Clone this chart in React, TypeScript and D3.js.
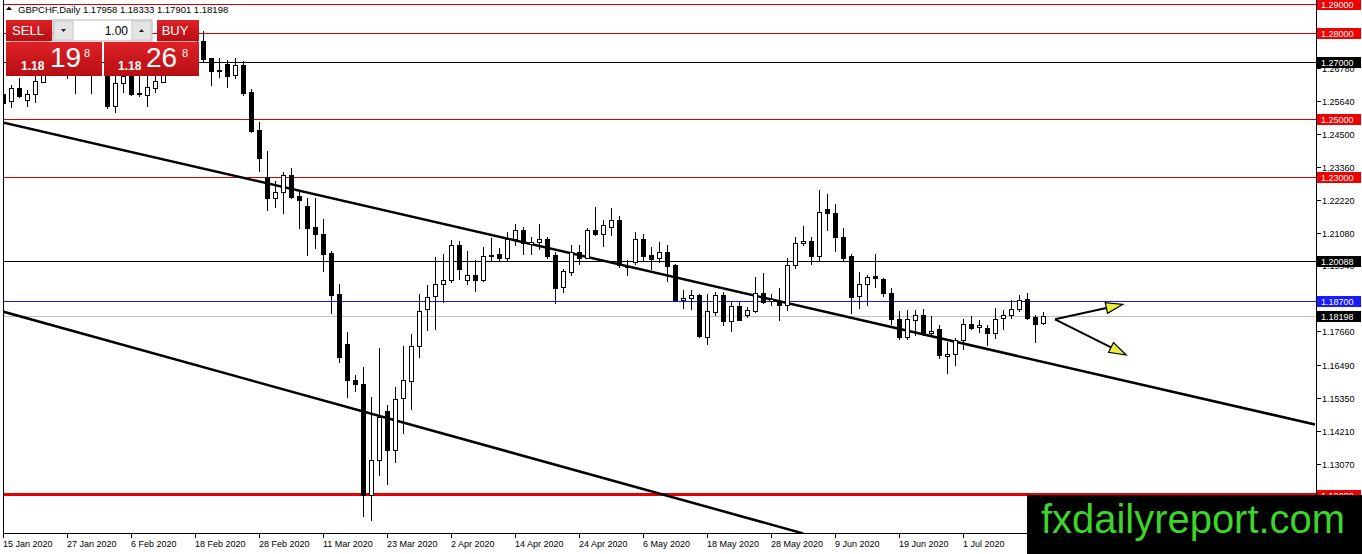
import React from 'react';
import * as d3 from 'd3';

const W = 1362;
const H = 554;

// OHLC values, one per daily bar starting 15 Jan 2020 (weekdays)
const opens = [
  1.2588, 1.2563, 1.2610, 1.2567, 1.2588, 1.2630, 1.2660, 1.2690, 1.2680, 1.2665,
  1.2685, 1.2705, 1.2690, 1.2700, 1.2546, 1.2625, 1.2664, 1.2590, 1.2584, 1.2608,
  1.2630, 1.2657, 1.2680, 1.2700, 1.2730, 1.2772, 1.2712, 1.2671, 1.2692, 1.2654,
  1.2688, 1.2596, 1.2463, 1.2301, 1.2226, 1.2247, 1.2307, 1.2235, 1.2199, 1.2127,
  1.2104, 1.2037, 1.1894, 1.1723, 1.1598, 1.1584, 1.1200, 1.1318, 1.1491, 1.1355,
  1.1536, 1.1593, 1.1713, 1.1844, 1.1887, 1.1929, 1.1942, 1.2064, 1.1945, 1.1962,
  1.1945, 1.2029, 1.2033, 1.2021, 1.2087, 1.2116, 1.2068, 1.2075, 1.2085, 1.2029,
  1.1918, 1.1972, 1.2039, 1.2021, 1.2116, 1.2104, 1.2127, 1.2151, 1.1991, 1.2006,
  1.2087, 1.2029, 1.2018, 1.2039, 1.1994, 1.1875, 1.1882, 1.1890, 1.1746, 1.1833,
  1.1890, 1.1801, 1.1852, 1.1821, 1.1836, 1.1900, 1.1871, 1.1871, 1.1856, 1.1994,
  1.2070, 1.2078, 1.2026, 1.2188, 1.2176, 1.2091, 1.2026, 1.1888, 1.1929, 1.1956,
  1.1948, 1.1900, 1.1809, 1.1746, 1.1804, 1.1821, 1.1759, 1.1772, 1.1681, 1.1688,
  1.1737, 1.1792, 1.1779, 1.1777, 1.1761, 1.1813, 1.1823, 1.1842, 1.1879, 1.1814,
  1.17958,
];
const highs = [
  1.2613, 1.2619, 1.2642, 1.2602, 1.2660, 1.2680, 1.2705, 1.2715, 1.2700, 1.2700,
  1.2725, 1.2730, 1.2720, 1.2712, 1.2665, 1.2668, 1.2680, 1.2660, 1.2660, 1.2665,
  1.2670, 1.2700, 1.2720, 1.2745, 1.2790, 1.2806, 1.2713, 1.2712, 1.2706, 1.2712,
  1.2702, 1.2605, 1.2490, 1.2390, 1.2286, 1.2318, 1.2330, 1.2249, 1.2226, 1.2228,
  1.2154, 1.2043, 1.1928, 1.1763, 1.1613, 1.1642, 1.1538, 1.1708, 1.1509, 1.1572,
  1.1713, 1.1758, 1.1896, 1.1925, 1.2023, 1.2035, 1.2081, 1.2078, 1.2043, 1.2012,
  1.2058, 1.2089, 1.2054, 1.2110, 1.2136, 1.2127, 1.2093, 1.2136, 1.2093, 1.2041,
  1.1981, 1.2064, 1.2064, 1.2124, 1.2197, 1.2151, 1.2193, 1.2166, 1.2012, 1.2110,
  1.2104, 1.2058, 1.2075, 1.2066, 1.2000, 1.1908, 1.1908, 1.1896, 1.1896, 1.1902,
  1.1902, 1.1867, 1.1867, 1.1850, 1.1954, 1.1966, 1.1896, 1.1917, 1.2018, 1.2091,
  1.2130, 1.2093, 1.2255, 1.2241, 1.2206, 1.2125, 1.2033, 1.1971, 1.1960, 1.2033,
  1.1952, 1.1917, 1.1835, 1.1838, 1.1838, 1.1842, 1.1819, 1.1786, 1.1728, 1.1742,
  1.1809, 1.1819, 1.1804, 1.1789, 1.1846, 1.1838, 1.1873, 1.1893, 1.1900, 1.1823,
  1.18333,
];
const lows = [
  1.2526, 1.2542, 1.2576, 1.2546, 1.2561, 1.2629, 1.2656, 1.2660, 1.2643, 1.2591,
  1.2662, 1.2591, 1.2665, 1.2538, 1.2526, 1.2596, 1.2586, 1.2581, 1.2546, 1.2596,
  1.2629, 1.2655, 1.2665, 1.2690, 1.2720, 1.2702, 1.2619, 1.2648, 1.2613, 1.2642,
  1.2584, 1.2455, 1.2322, 1.2185, 1.2197, 1.2177, 1.2226, 1.2124, 1.2029, 1.2055,
  1.1974, 1.1830, 1.1659, 1.1538, 1.1558, 1.1127, 1.1110, 1.1266, 1.1237, 1.1312,
  1.1413, 1.1497, 1.1676, 1.1771, 1.1775, 1.1867, 1.1937, 1.1948, 1.1928, 1.1904,
  1.1939, 1.2012, 1.2012, 1.2009, 1.2066, 1.2035, 1.2035, 1.2052, 1.2018, 1.1865,
  1.1902, 1.1962, 1.2000, 1.2018, 1.2099, 1.2061, 1.2099, 1.1989, 1.1960, 1.2000,
  1.2012, 1.1981, 1.2006, 1.1939, 1.1870, 1.1846, 1.1844, 1.1746, 1.1723, 1.1821,
  1.1786, 1.1767, 1.1804, 1.1815, 1.1833, 1.1864, 1.1856, 1.1804, 1.1838, 1.1986,
  1.2064, 1.2000, 1.2014, 1.2116, 1.2044, 1.2012, 1.1829, 1.1846, 1.1856, 1.1919,
  1.1887, 1.1790, 1.1740, 1.1738, 1.1752, 1.1752, 1.1752, 1.1673, 1.1622, 1.1648,
  1.1705, 1.1772, 1.1763, 1.1719, 1.1742, 1.1775, 1.1813, 1.1835, 1.1809, 1.1728,
  1.17901,
];
const closes = [
  1.2558, 1.2608, 1.2581, 1.2588, 1.2633, 1.2660, 1.2690, 1.2680, 1.2665, 1.2685,
  1.2705, 1.2690, 1.2700, 1.2546, 1.2625, 1.2650, 1.2588, 1.2588, 1.2613, 1.2633,
  1.2657, 1.2680, 1.2700, 1.2730, 1.2772, 1.2708, 1.2669, 1.2667, 1.2651, 1.2688,
  1.2590, 1.2459, 1.2365, 1.2226, 1.2247, 1.2307, 1.2232, 1.2220, 1.2125, 1.2102,
  1.2033, 1.1893, 1.1676, 1.1598, 1.1582, 1.1200, 1.1318, 1.1468, 1.1353, 1.1532,
  1.1596, 1.1713, 1.1836, 1.1885, 1.1929, 1.1942, 1.2064, 1.1983, 1.1962, 1.1945,
  1.2027, 1.2026, 1.2021, 1.2087, 1.2116, 1.2070, 1.2075, 1.2085, 1.2027, 1.1916,
  1.1974, 1.2039, 1.2021, 1.2116, 1.2103, 1.2133, 1.2151, 1.1994, 1.1988, 1.2087,
  1.2027, 1.2016, 1.2039, 1.1991, 1.1875, 1.1882, 1.1893, 1.1749, 1.1835, 1.1890,
  1.1801, 1.1852, 1.1806, 1.1838, 1.1900, 1.1867, 1.1876, 1.1858, 1.1994, 1.2070,
  1.2077, 1.2026, 1.2179, 1.2174, 1.2091, 1.2021, 1.1885, 1.1931, 1.1954, 1.1951,
  1.1898, 1.1809, 1.1746, 1.1809, 1.1821, 1.1761, 1.1768, 1.1682, 1.1688, 1.1737,
  1.1792, 1.1777, 1.1786, 1.1761, 1.1809, 1.1823, 1.1842, 1.1873, 1.1812, 1.1792,
  1.18198,
];

const dateTickBars = [0, 8, 16, 24, 32, 40, 48, 56, 64, 72, 80, 88, 96, 104, 112, 120];
const dateLabels = [
  '15 Jan 2020', '27 Jan 2020', '6 Feb 2020', '18 Feb 2020', '28 Feb 2020', '11 Mar 2020',
  '23 Mar 2020', '2 Apr 2020', '14 Apr 2020', '24 Apr 2020', '6 May 2020', '18 May 2020',
  '28 May 2020', '9 Jun 2020', '19 Jun 2020', '1 Jul 2020',
];

const priceTicks = [
  1.2792, 1.2678, 1.2564, 1.245, 1.2336, 1.2222, 1.2108, 1.1994, 1.1766,
  1.1649, 1.1535, 1.1421, 1.1307,
];

const levelPrices = [1.29, 1.28, 1.27, 1.25, 1.23, 1.20088, 1.187, 1.18198, 1.12];
const levelKinds = ['red', 'red', 'black', 'red', 'red', 'black', 'blue', 'bid', 'support'];

// trend lines: [bar0, price0, bar1, price1]
const trendUpper = [0, 1.24893, 164, 1.14426];
const trendLower = [0, 1.18339, 100, 1.10652];

// projection arrows: start [bar, price] and two tips
const arrowStart = [131.5, 1.18072];
const arrowTips = [
  [140, 1.18592],
  [140.4, 1.16835],
];

const symbolHeader = 'GBPCHF,Daily';
const headerOHLC = ['1.17958', '1.18333', '1.17901', '1.18198'];
const lotSize = '1.00';
const sellQuote = ['1.18', '19', '8'];
const buyQuote = ['1.18', '26', '8'];

const levelStyle: Record<string, { line: string; width: number; box: string }> = {
  red: { line: '#d80000', width: 1, box: '#f00000' },
  black: { line: '#000000', width: 1, box: '#000000' },
  blue: { line: '#1414ff', width: 1, box: '#1a1aff' },
  bid: { line: '#c0c0c0', width: 1, box: '#000000' },
  support: { line: '#e80000', width: 2.5, box: '#f00000' },
};

const FONT = '"Liberation Sans", Arial, sans-serif';

export default function App() {
  const plotL = 3;
  const plotR = 1316;
  const plotB = 533;

  const x = d3.scaleLinear().domain([0, 1]).range([3, 11]);
  const y = d3.scaleLinear().domain([1.12, 1.29]).range([494.5, 4]);

  const candles = opens.map((o, i) => {
    const c = closes[i];
    const cx = Math.round(x(i));
    const top = Math.round(y(Math.max(o, c)));
    const bot = Math.round(y(Math.min(o, c)));
    const bull = c >= o;
    const hy = Math.round(y(highs[i]));
    const ly = Math.round(y(lows[i]));
    return (
      <g key={i}>
        <line x1={cx + 0.5} x2={cx + 0.5} y1={hy} y2={ly + 1} stroke="#000" strokeWidth={1} />
        {bot - top < 1 ? (
          <line x1={cx - 2} x2={cx + 3} y1={top + 0.5} y2={top + 0.5} stroke="#000" strokeWidth={1} />
        ) : bull ? (
          <rect x={cx - 1.5} y={top + 0.5} width={4} height={bot - top} fill="#fff" stroke="#000" strokeWidth={1} />
        ) : (
          <rect x={cx - 2} y={top} width={5} height={bot - top + 1} fill="#000" />
        )}
      </g>
    );
  });

  const line = d3.line<number[]>().x((d) => x(d[0])).y((d) => y(d[1]));
  const tl = (t: number[]) => line([[t[0], t[1]], [t[2], t[3]]]) || '';

  const ax = x(arrowStart[0]);
  const ay = y(arrowStart[1]);
  const arrows = arrowTips.map((t, k) => {
    const tx = x(t[0]);
    const ty = y(t[1]);
    const ang = Math.atan2(ty - ay, tx - ax);
    const len = 17;
    const hw = 5.5;
    const bx = tx - len * Math.cos(ang);
    const by = ty - len * Math.sin(ang);
    const nx = -Math.sin(ang);
    const ny = Math.cos(ang);
    const pts = [
      [tx, ty],
      [bx + nx * hw, by + ny * hw],
      [bx - nx * hw, by - ny * hw],
    ];
    return (
      <g key={k}>
        <line x1={ax} y1={ay} x2={bx} y2={by} stroke="#000" strokeWidth={2} />
        <polygon points={pts.map((p) => p.join(',')).join(' ')} fill="#ecec3c" stroke="#000" strokeWidth={1.2} />
      </g>
    );
  });

  const headerText = `${symbolHeader} ${headerOHLC.join(' ')}`;

  return (
    <svg
      width={W}
      height={H}
      viewBox={`0 0 ${W} ${H}`}
      style={{ position: 'fixed', left: 0, top: 0, background: '#fff', fontFamily: FONT }}
    >
      <defs>
        <clipPath id="plot">
          <rect x={plotL + 1} y={0} width={plotR - plotL - 1} height={plotB} />
        </clipPath>
        <linearGradient id="redGrad" x1="0" y1="0" x2="0" y2="1">
          <stop offset="0" stopColor="#dd2227" />
          <stop offset="1" stopColor="#b70e13" />
        </linearGradient>
      </defs>
      <rect x={0} y={0} width={W} height={H} fill="#fff" />

      <g clipPath="url(#plot)" shapeRendering="crispEdges">
        {levelPrices.map((p, i) => {
          const st = levelStyle[levelKinds[i]];
          const yy = st.width === 1 ? Math.round(y(p)) + 0.5 : y(p);
          return <line key={i} x1={plotL} x2={plotR} y1={yy} y2={yy} stroke={st.line} strokeWidth={st.width} />;
        })}
      </g>

      <g clipPath="url(#plot)">
        <path d={tl(trendUpper)} stroke="#000" strokeWidth={2.5} fill="none" />
        <path d={tl(trendLower)} stroke="#000" strokeWidth={2.5} fill="none" />
      </g>

      <g clipPath="url(#plot)" shapeRendering="crispEdges">{candles}</g>

      <g>{arrows}</g>

      {/* frame */}
      <g shapeRendering="crispEdges" stroke="#000" strokeWidth={1}>
        <line x1={plotL + 0.5} x2={plotL + 0.5} y1={0} y2={plotB + 1} />
        <line x1={plotL} x2={plotR + 1} y1={plotB + 0.5} y2={plotB + 0.5} />
        <line x1={plotR + 0.5} x2={plotR + 0.5} y1={0} y2={plotB + 1} />
      </g>

      {/* x axis */}
      <g fontSize={9} fill="#000">
        {dateTickBars.map((b, i) => {
          const cx = Math.round(x(b));
          return (
            <g key={i}>
              <line x1={cx + 0.5} x2={cx + 0.5} y1={plotB} y2={plotB + 5} stroke="#000" shapeRendering="crispEdges" />
              <text x={cx} y={547}>
                {dateLabels[i]}
              </text>
            </g>
          );
        })}
      </g>

      {/* y axis */}
      <g fontSize={9} fill="#000">
        {priceTicks.map((p, i) => {
          const yy = Math.round(y(p)) + 0.5;
          return (
            <g key={i}>
              <line x1={plotR + 1} x2={plotR + 5} y1={yy} y2={yy} stroke="#000" shapeRendering="crispEdges" />
              <text x={1322} y={yy + 3.5}>
                {p.toFixed(5)}
              </text>
            </g>
          );
        })}
      </g>

      {/* level labels */}
      <g fontSize={9} fill="#fff">
        {levelPrices.map((p, i) => {
          const st = levelStyle[levelKinds[i]];
          const yy = Math.round(y(p));
          return (
            <g key={i}>
              <rect x={1317} y={yy - 5} width={44} height={11} fill={st.box} />
              <text x={1321} y={yy + 4}>
                {p.toFixed(5)}
              </text>
            </g>
          );
        })}
      </g>

      {/* header */}
      <path d="M6,10 L9,6.5 L12,10 Z" fill="#000" />
      <text x={18} y={13} fontSize={9.5} fill="#000">
        {headerText}
      </text>

      {/* trade panel */}
      <g>
        <rect x={53} y={20} width={99} height={21} fill="#fff" stroke="#b5b5b5" />
        <rect x={54} y={21} width={19} height={19} fill="#e4e4e4" stroke="#c8c8c8" />
        <rect x={132} y={21} width={19} height={19} fill="#e4e4e4" stroke="#c8c8c8" />
        <path d="M61,29 L66,29 L63.5,32 Z" fill="#222" />
        <path d="M139,32 L144,32 L141.5,29 Z" fill="#222" />
        <text x={128} y={35} fontSize={12} textAnchor="end" fill="#000">
          {lotSize}
        </text>

        <rect x={6} y={20} width={46} height={21} fill="url(#redGrad)" />
        <rect x={157} y={20} width={42} height={21} fill="url(#redGrad)" />
        <rect x={6} y={42} width={96} height={34} fill="url(#redGrad)" />
        <rect x={104} y={42} width={95} height={34} fill="url(#redGrad)" />
        <line x1={10} x2={50} y1={41.5} y2={41.5} stroke="#f0a0a0" strokeWidth={1} />
        <line x1={158} x2={197} y1={41.5} y2={41.5} stroke="#f0a0a0" strokeWidth={1} />

        <text x={28} y={35} fontSize={13} textAnchor="middle" fill="#fff">
          SELL
        </text>
        <text x={175} y={35} fontSize={13} textAnchor="middle" fill="#fff">
          BUY
        </text>

        <text x={21} y={70} fontSize={12} fontWeight="bold" fill="#fff">
          {sellQuote[0]}
        </text>
        <text x={50} y={67} fontSize={28} fill="#fff">
          {sellQuote[1]}
        </text>
        <text x={84} y={57} fontSize={11} fill="#fff">
          {sellQuote[2]}
        </text>

        <text x={118} y={70} fontSize={12} fontWeight="bold" fill="#fff">
          {buyQuote[0]}
        </text>
        <text x={146} y={67} fontSize={28} fill="#fff">
          {buyQuote[1]}
        </text>
        <text x={182} y={57} fontSize={11} fill="#fff">
          {buyQuote[2]}
        </text>
      </g>

      {/* watermark */}
      <rect x={1027} y={495} width={335} height={59} fill="#000" />
      <text x={1041} y={533} fontSize={40} fill="#3cd52b" textLength={304} lengthAdjust="spacingAndGlyphs">
        fxdailyreport.com
      </text>
    </svg>
  );
}
